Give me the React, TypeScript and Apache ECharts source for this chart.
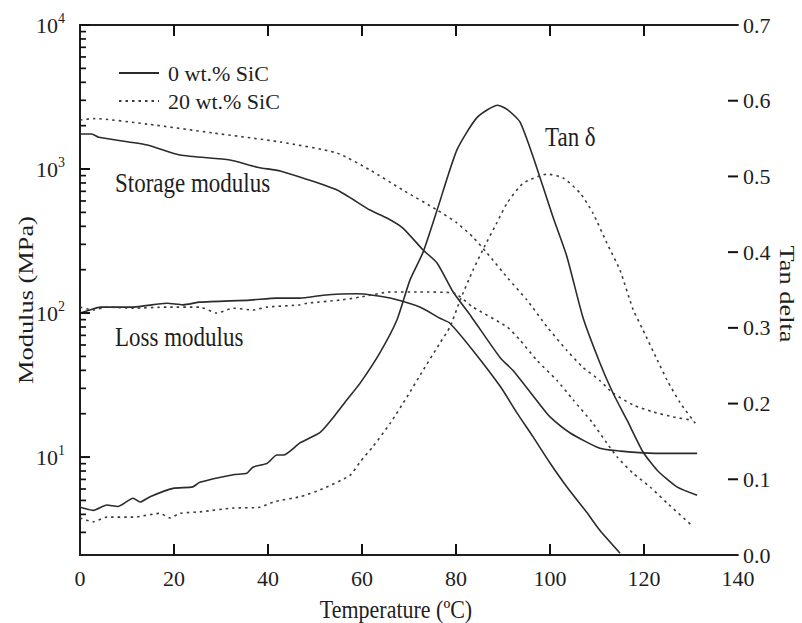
import React, { useEffect, useRef } from "react";
import * as echarts from "echarts";

// ---------- data ----------
const xTickValues = [0, 20, 40, 60, 80, 100, 120, 140];
const modulusExponents = [1, 2, 3, 4];
const tanTickValues = [0.1, 0.2, 0.3, 0.4, 0.5, 0.6];

const storage0T = [0, 2.5, 4, 14.3, 21.3, 31.9, 37.7, 42.6, 47.4, 54.7, 61.7, 65.3, 68.7, 73, 76, 79.4, 83.3, 89.4, 92.1, 97.9, 100, 104.3, 110.6, 115, 119.8, 125, 131.3];
const storage0 = [1750, 1750, 1660, 1470, 1250, 1155, 1030, 970, 866, 714, 519, 457, 389, 274, 222, 140, 94, 49, 40, 23, 19, 14.7, 11.5, 11.0, 10.7, 10.6, 10.6];

const storage20T = [0, 3, 14.3, 28.3, 42.6, 54.7, 61.7, 68.7, 76, 80.2, 83.6, 86.6, 91, 95.1, 99.4, 103.6, 107, 110.6, 113.4, 117.7, 121.9, 126.2, 130.4];
const storage20 = [2190, 2240, 2050, 1780, 1540, 1290, 984, 714, 519, 422, 337, 261, 175, 123, 80, 55, 42, 34, 27.8, 23, 20.6, 19, 18];

const loss0T = [0, 2.1, 4.3, 11.3, 18.5, 21.9, 25.5, 36.2, 41.9, 46.8, 51.7, 58.9, 62.3, 66, 72.3, 76.6, 78.7, 83.6, 89.4, 93, 96.4, 100, 103.6, 107.9, 110.6, 114.9];
const loss0 = [100, 105, 110, 110, 117, 114, 119, 123, 127, 127, 133, 136, 133, 127, 110, 92, 85, 55, 31, 20.2, 13.8, 9.1, 6.2, 4.1, 3.1, 2.15];

const loss20T = [0, 2.8, 5.7, 11.3, 18.5, 25.5, 29.1, 32.6, 36.8, 39.8, 46.8, 48.3, 55.3, 59.6, 66, 72, 79.4, 83.6, 90.9, 93.6, 97.2, 101.5, 104.9, 109.1, 112.1, 114.3, 117.7, 121.3, 124.9, 130.4];
const loss20 = [110, 105, 110, 108, 110, 110, 100, 108, 105, 110, 114, 117, 123, 129, 140, 140, 138, 110, 80, 65, 47, 34, 25, 17.2, 12.5, 10, 7.7, 6.2, 4.8, 3.3];

const tan0T = [0, 2.8, 5.7, 8, 11.3, 12.8, 14.9, 19.8, 24, 25.5, 32.6, 35.5, 36.8, 39.8, 41.9, 43.3, 46.8, 51.1, 53.8, 56.8, 59.6, 63.8, 67.4, 70.2, 73, 76, 80.2, 84.5, 88.9, 91, 93.6, 96.4, 100.6, 103.6, 107, 110.6, 113.4, 116.4, 119.8, 122.8, 127, 131.3];
const tan0 = [0.063, 0.059, 0.066, 0.064, 0.075, 0.070, 0.077, 0.088, 0.090, 0.096, 0.106, 0.108, 0.116, 0.121, 0.132, 0.132, 0.148, 0.162, 0.181, 0.205, 0.227, 0.267, 0.310, 0.363, 0.400, 0.456, 0.535, 0.578, 0.594, 0.588, 0.572, 0.526, 0.447, 0.394, 0.314, 0.254, 0.214, 0.178, 0.136, 0.112, 0.090, 0.079];

const tan20T = [0, 2.8, 5.7, 11.3, 17, 19.1, 21.3, 25.5, 32.6, 38.3, 41.1, 46.8, 51.1, 57.4, 59.6, 62.3, 66, 69.6, 73, 76.6, 78.7, 80.9, 83.6, 85.7, 88.7, 90.9, 94.3, 99.4, 102.8, 106.4, 109.1, 112.1, 114.9, 117.7, 119.8, 122.8, 124.9, 127.7, 130.9];
const tan20 = [0.049, 0.044, 0.050, 0.050, 0.055, 0.049, 0.055, 0.057, 0.062, 0.063, 0.070, 0.077, 0.086, 0.105, 0.123, 0.143, 0.174, 0.209, 0.244, 0.280, 0.301, 0.337, 0.376, 0.403, 0.439, 0.465, 0.491, 0.503, 0.498, 0.478, 0.452, 0.412, 0.376, 0.324, 0.297, 0.258, 0.231, 0.201, 0.174];

const seriesName0 = "0 wt.% SiC";
const seriesName20 = "20 wt.% SiC";

// ---------- helpers ----------
const FONT = "Liberation Serif";
const INK = "#1e1e1e";
const X_MIN = 0;
const X_MAX = 140;
const LOG_MIN = 0.32;
const LOG_MAX = 4;

const logPairs = (t: number[], v: number[]) => t.map((x, i) => [x, Math.log10(v[i])]);
const pairs = (t: number[], v: number[]) => t.map((x, i) => [x, v[i]]);

const minorLogTicks: number[] = [];
for (let e = 0; e < 4; e++) {
  for (let k = 2; k <= 9; k++) {
    const l = Math.log10(k * Math.pow(10, e));
    if (l > LOG_MIN && l < LOG_MAX) minorLogTicks.push(l);
  }
}

export default function App() {
  const ref = useRef<HTMLDivElement>(null);

  useEffect(() => {
    document.body.style.margin = "0";
    if (!ref.current) return;
    const chart = echarts.init(ref.current, null, { renderer: "svg" });

    const solid = { color: "#2b2b2b", width: 1.6, type: "solid" as const };
    const dotted = { color: "#3a3a3a", width: 1.6, type: [2.5, 4] as any };

    const lineSeries = (name: string, data: number[][], yAxisIndex: number, style: any) => ({
      type: "line",
      name,
      data,
      yAxisIndex,
      xAxisIndex: 0,
      showSymbol: false,
      symbol: "none",
      smooth: 0.2,
      lineStyle: style,
      itemStyle: { color: style.color },
      emphasis: { disabled: true },
      z: 3,
    });

    const mkLine = () => ({ show: true, lineStyle: { color: INK, width: 1.8 } });
    const labelStyle = { color: INK, fontFamily: FONT, fontSize: 22 };

    const textEls: any[] = [
      {
        type: "text", x: 25, y: 300, rotation: Math.PI / 2, scaleX: 1.2,
        style: { text: "Modulus (MPa)", fontFamily: FONT, fontSize: 22, fill: INK, align: "center", verticalAlign: "middle" },
      },
      {
        type: "text", x: 788, y: 294, rotation: -Math.PI / 2, scaleX: 1.2,
        style: { text: "Tan delta", fontFamily: FONT, fontSize: 22, fill: INK, align: "center", verticalAlign: "middle" },
      },
      {
        type: "text", x: 396, y: 609, scaleY: 1.15,
        style: { text: "Temperature (ºC)", fontFamily: FONT, fontSize: 22, fill: INK, align: "center", verticalAlign: "middle" },
      },
      {
        type: "text", x: 115, y: 183, scaleY: 1.15,
        style: { text: "Storage modulus", fontFamily: FONT, fontSize: 23, fill: INK, align: "left", verticalAlign: "middle" },
      },
      {
        type: "text", x: 115, y: 337, scaleY: 1.15,
        style: { text: "Loss modulus", fontFamily: FONT, fontSize: 23, fill: INK, align: "left", verticalAlign: "middle" },
      },
      {
        type: "text", x: 545, y: 137, scaleY: 1.15,
        style: { text: "Tan δ", fontFamily: FONT, fontSize: 23, fill: INK, align: "left", verticalAlign: "middle" },
      },
    ];

    const option: any = {
      animation: false,
      grid: { left: 80, right: 64, top: 25, bottom: 68, containLabel: false },
      legend: {
        show: true,
        orient: "vertical",
        left: 113,
        top: 57,
        itemWidth: 40,
        itemHeight: 14,
        itemGap: 6,
        selectedMode: false,
        data: [seriesName0, seriesName20],
        itemStyle: { opacity: 0, borderWidth: 0 },
        textStyle: { color: INK, fontFamily: FONT, fontSize: 22, lineHeight: 22, padding: [0, 0, 0, 4] },
      },
      xAxis: [
        {
          type: "value",
          position: "bottom",
          min: X_MIN,
          max: X_MAX,
          interval: 20,
          axisLine: mkLine(),
          axisTick: { show: false },
          axisLabel: { ...labelStyle, margin: 12, formatter: (v: number) => String(v) },
          splitLine: { show: false },
        },
        {
          type: "value",
          position: "top",
          min: X_MIN,
          max: X_MAX,
          interval: 20,
          axisLine: mkLine(),
          axisTick: { show: false },
          axisLabel: { show: false },
          splitLine: { show: false },
        },
      ],
      yAxis: [
        {
          type: "value",
          position: "left",
          min: LOG_MIN,
          max: LOG_MAX,
          axisLine: mkLine(),
          axisTick: { show: false },
          axisLabel: {
            ...labelStyle,
            margin: 15,
            customValues: modulusExponents,
            formatter: (v: number) => `{b|10}{s|${Math.round(v)}}`,
            rich: {
              b: { fontFamily: FONT, fontSize: 22, color: INK },
              s: { fontFamily: FONT, fontSize: 14, color: INK, padding: [0, 0, 14, 0] },
            },
          },
          splitLine: { show: false },
        },
        {
          type: "value",
          position: "right",
          min: 0,
          max: 0.7,
          interval: 0.1,
          axisLine: mkLine(),
          axisTick: { show: false },
          axisLabel: { ...labelStyle, margin: 5, formatter: (v: number) => v.toFixed(1) },
          splitLine: { show: false },
        },
      ],
      series: [
        lineSeries(seriesName0, logPairs(storage0T, storage0), 0, solid),
        lineSeries(seriesName20, logPairs(storage20T, storage20), 0, dotted),
        lineSeries(seriesName0, logPairs(loss0T, loss0), 0, solid),
        lineSeries(seriesName20, logPairs(loss20T, loss20), 0, dotted),
        lineSeries(seriesName0, pairs(tan0T, tan0), 1, solid),
        lineSeries(seriesName20, pairs(tan20T, tan20), 1, dotted),
      ],
    };

    chart.setOption(option);

    // inward tick marks, positioned through the chart's own axis scales
    const tickStyle = { stroke: "#111", lineWidth: 2 };
    const px = (v: number) => chart.convertToPixel({ xAxisIndex: 0 }, v) as unknown as number;
    const pyL = (v: number) => chart.convertToPixel({ yAxisIndex: 0 }, v) as unknown as number;
    const pyR = (v: number) => chart.convertToPixel({ yAxisIndex: 1 }, v) as unknown as number;
    const xLeft = px(X_MIN);
    const xRight = px(X_MAX);
    const yBottom = pyL(LOG_MIN);
    const yTop = pyL(LOG_MAX);
    const tickEls: any[] = [];
    xTickValues
      .filter((v) => v > X_MIN && v < X_MAX)
      .forEach((v) => {
        const x = px(v);
        tickEls.push({ type: "line", z: 100, silent: true, shape: { x1: x, y1: yBottom, x2: x, y2: yBottom - 11 }, style: tickStyle });
        tickEls.push({ type: "line", z: 100, silent: true, shape: { x1: x, y1: yTop, x2: x, y2: yTop + 11 }, style: tickStyle });
      });
    modulusExponents.forEach((v) => {
      const y = pyL(v);
      tickEls.push({ type: "line", z: 100, silent: true, shape: { x1: xLeft, y1: y, x2: xLeft + 10, y2: y }, style: tickStyle });
    });
    minorLogTicks.forEach((v) => {
      const y = pyL(v);
      tickEls.push({ type: "line", z: 100, silent: true, shape: { x1: xLeft, y1: y, x2: xLeft + 6, y2: y }, style: { stroke: "#111", lineWidth: 1.7 } });
    });
    tanTickValues.forEach((v) => {
      const y = pyR(v);
      tickEls.push({ type: "line", z: 100, silent: true, shape: { x1: xRight, y1: y, x2: xRight - 10, y2: y }, style: tickStyle });
    });

    chart.setOption({ graphic: [...textEls, ...tickEls] });

    return () => chart.dispose();
  }, []);

  return <div ref={ref} style={{ width: 802, height: 623 }} />;
}
